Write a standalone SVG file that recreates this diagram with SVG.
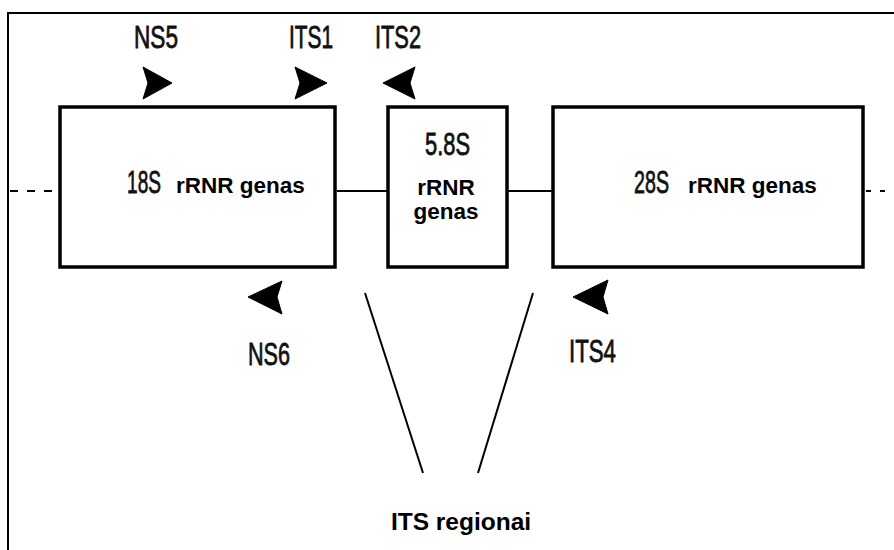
<svg xmlns="http://www.w3.org/2000/svg" width="894" height="550" viewBox="0 0 894 550">
<style>
.box{fill:#fff;stroke:#000;stroke-width:3.5}
.lbl{font-family:"Liberation Sans",Arial,sans-serif;font-size:31px;fill:#111;stroke:#111;stroke-width:0.8}
.gene{font-family:"Liberation Sans",Arial,sans-serif;font-weight:bold;font-size:22.5px;fill:#000}
.cond{font-family:"Liberation Sans",Arial,sans-serif;font-size:32px;fill:#111;stroke:#111;stroke-width:0.8}
.conn{stroke:#000;stroke-width:2;fill:none}
.arr{fill:#000;stroke:#000;stroke-width:1;stroke-linejoin:round}
</style>
<rect x="0" y="0" width="894" height="550" fill="#fff"/>
<rect x="8" y="13" width="900" height="560" fill="none" stroke="#000" stroke-width="2"/>
<g id="connectors">
<line class="conn" x1="10" y1="191" x2="58" y2="191" stroke-dasharray="8 9"/>
<line class="conn" x1="337" y1="191" x2="388" y2="191"/>
<line class="conn" x1="507" y1="191" x2="553" y2="191"/>
<line class="conn" x1="866" y1="191" x2="894" y2="191" stroke-dasharray="5 9"/>
<line class="conn" x1="365" y1="293" x2="423" y2="473" stroke-width="1.6"/>
<line class="conn" x1="533" y1="293" x2="478" y2="473" stroke-width="1.6"/>
</g>
<g id="node-18S">
<rect class="box" x="60" y="107" width="275" height="160"/>
<text class="cond" x="127" y="193" textLength="34" lengthAdjust="spacingAndGlyphs">18S</text>
<text class="gene" x="176" y="193">rRNR genas</text>
</g>
<g id="node-5.8S">
<rect class="box" x="388" y="107" width="119" height="160"/>
<text class="cond" x="425" y="155" textLength="45" lengthAdjust="spacingAndGlyphs">5.8S</text>
<text class="gene" x="446" y="195" text-anchor="middle">rRNR</text>
<text class="gene" x="446" y="219" text-anchor="middle">genas</text>
</g>
<g id="node-28S">
<rect class="box" x="553" y="107" width="310" height="160"/>
<text class="cond" x="634" y="193" textLength="35" lengthAdjust="spacingAndGlyphs">28S</text>
<text class="gene" x="688" y="193">rRNR genas</text>
</g>
<g id="primer-NS5">
<text class="lbl" x="134" y="48" textLength="44" lengthAdjust="spacingAndGlyphs">NS5</text>
<polygon class="arr" points="143,67 172,83 143,99 148,83"/>
</g>
<g id="primer-ITS1">
<text class="lbl" x="289" y="48" textLength="44" lengthAdjust="spacingAndGlyphs">ITS1</text>
<polygon class="arr" points="295,67 327,83 295,99 300,83"/>
</g>
<g id="primer-ITS2">
<text class="lbl" x="375" y="48" textLength="46" lengthAdjust="spacingAndGlyphs">ITS2</text>
<polygon class="arr" points="415,67 383,83 415,99 410,83"/>
</g>
<g id="primer-NS6">
<text class="lbl" x="248" y="365" textLength="42" lengthAdjust="spacingAndGlyphs">NS6</text>
<polygon class="arr" points="282,281 248,297 282,314 277,297"/>
</g>
<g id="primer-ITS4">
<text class="lbl" x="569" y="362" textLength="47" lengthAdjust="spacingAndGlyphs">ITS4</text>
<polygon class="arr" points="608,280 573,297 608,314 603,297"/>
</g>
<g id="label-ITS">
<text class="gene" x="461" y="530" text-anchor="middle" style="font-size:24.5px">ITS regionai</text>
</g>
</svg>
